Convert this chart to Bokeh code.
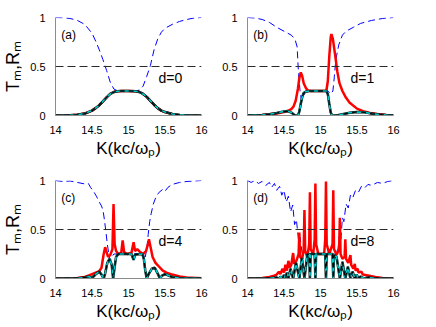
from bokeh.plotting import figure
from bokeh.layouts import column, row
from bokeh.models import FixedTicker, Label, Span
from bokeh.embed import file_html
from bokeh.resources import INLINE

FONT = "Liberation Sans"

x_ticks = [14, 14.5, 15, 15.5, 16]
x_tick_labels = ["14", "14.5", "15", "15.5", "16"]
y_ticks = [0, 0.5, 1]
y_tick_labels = ["0", "0.5", "1"]
panel_tags = ["(a)", "(b)", "(c)", "(d)"]
d_labels = ["d=0", "d=1", "d=4", "d=8"]
half_level = 0.5

# ---------------- panel (a), d=0 ----------------
k_T_a = [14.0, 14.2, 14.3, 14.4, 14.5, 14.55, 14.6, 14.65, 14.7, 14.75, 14.8, 14.85, 14.9, 15.0,
         15.1, 15.15, 15.2, 15.25, 15.3, 15.35, 15.4, 15.45, 15.5, 15.6, 15.7, 15.8, 16.0]
T_a = [0.0, 0.003, 0.008, 0.02, 0.05, 0.075, 0.105, 0.145, 0.185, 0.22, 0.24, 0.248, 0.25, 0.25,
       0.248, 0.24, 0.22, 0.19, 0.15, 0.11, 0.075, 0.05, 0.035, 0.015, 0.006, 0.002, 0.0]
k_red_a = k_T_a
red_a = T_a
k_R_a = [14.0, 14.1, 14.2, 14.3, 14.4, 14.5, 14.55, 14.6, 14.65, 14.7, 14.75, 14.8, 14.85, 14.9, 15.0,
         15.1, 15.15, 15.2, 15.25, 15.3, 15.35, 15.4, 15.45, 15.5, 15.6, 15.7, 15.8, 15.9, 16.0]
R_a = [1.0, 0.998, 0.99, 0.97, 0.93, 0.84, 0.76, 0.67, 0.57, 0.46, 0.34, 0.27, 0.252, 0.25, 0.25,
       0.25, 0.26, 0.3, 0.4, 0.51, 0.67, 0.78, 0.85, 0.89, 0.93, 0.96, 0.98, 0.995, 1.0]

# ---------------- panel (b), d=1 ----------------
k_T_b = [14.0, 14.2, 14.3, 14.4, 14.5, 14.55, 14.6, 14.63, 14.66, 14.69, 14.71, 14.73, 14.75, 14.77,
         14.8, 14.85, 15.0, 15.08, 15.1, 15.12, 15.14, 15.16, 15.22, 15.3, 15.4, 15.5, 15.6, 15.7,
         15.8, 15.9, 16.0]
T_b = [0.0, 0.005, 0.012, 0.025, 0.042, 0.045, 0.03, 0.012, 0.0, 0.0, 0.04, 0.12, 0.19, 0.23,
       0.245, 0.25, 0.25, 0.25, 0.22, 0.12, 0.03, 0.0, 0.0, 0.012, 0.028, 0.036, 0.032, 0.02,
       0.01, 0.004, 0.0]
k_red_b = [14.0, 14.2, 14.3, 14.4, 14.5, 14.55, 14.6, 14.63, 14.66, 14.69, 14.71, 14.73, 14.75,
           14.77, 14.8, 14.83, 14.87, 15.0, 15.08, 15.1, 15.12, 15.14, 15.15, 15.17, 15.2, 15.23,
           15.26, 15.3, 15.35, 15.4, 15.5, 15.6, 15.7, 15.8, 15.9, 16.0]
red_b = [0.002, 0.006, 0.012, 0.02, 0.035, 0.045, 0.065, 0.09, 0.15, 0.27, 0.38, 0.44, 0.4,
         0.33, 0.28, 0.255, 0.25, 0.25, 0.25, 0.35, 0.6, 0.8, 0.83, 0.78, 0.62, 0.45,
         0.33, 0.25, 0.18, 0.13, 0.07, 0.04, 0.022, 0.012, 0.006, 0.003]
k_R_b = [14.0, 14.1, 14.2, 14.3, 14.4, 14.5, 14.6, 14.65, 14.68, 14.69, 14.7, 14.72, 14.74, 14.76,
         14.8, 14.9, 15.1, 15.14, 15.17, 15.19, 15.21, 15.25, 15.3, 15.35, 15.45, 15.55, 15.7,
         15.85, 16.0]
R_b = [1.0, 0.995, 0.98, 0.95, 0.9, 0.86, 0.82, 0.78, 0.7, 0.55, 0.42, 0.25, 0.15, 0.2,
       0.24, 0.25, 0.25, 0.22, 0.25, 0.4, 0.57, 0.72, 0.82, 0.86, 0.9, 0.94, 0.97,
       0.99, 1.0]

# ---------------- panel (c), d=4 ----------------
k_T_c = [14.0, 14.3, 14.4, 14.45, 14.48, 14.52, 14.56, 14.6, 14.63, 14.66, 14.68, 14.71, 14.74,
         14.77, 14.79, 14.81, 14.83, 14.86, 15.04, 15.07, 15.09, 15.19, 15.21, 15.23, 15.25,
         15.28, 15.32, 15.36, 15.4, 15.43, 15.46, 15.5, 15.55, 15.6, 15.7, 16.0]
T_c = [0.0, 0.003, 0.01, 0.02, 0.01, 0.02, 0.05, 0.07, 0.04, 0.0, 0.05, 0.16, 0.2,
       0.14, 0.0, 0.12, 0.22, 0.25, 0.25, 0.19, 0.245, 0.25, 0.2, 0.08, 0.0,
       0.05, 0.1, 0.11, 0.05, 0.0, 0.03, 0.045, 0.03, 0.015, 0.005, 0.0]
k_red_c = [14.0, 14.3, 14.4, 14.45, 14.5, 14.55, 14.6, 14.63, 14.66, 14.68, 14.7, 14.72, 14.75,
           14.78, 14.795, 14.81, 14.83, 14.86, 14.9, 14.92, 14.94, 14.98, 15.04, 15.07, 15.09,
           15.12, 15.16, 15.2, 15.24, 15.27, 15.28, 15.3, 15.33, 15.37, 15.42, 15.47, 15.52,
           15.6, 15.7, 15.8, 16.0]
red_c = [0.0, 0.005, 0.015, 0.03, 0.045, 0.06, 0.075, 0.11, 0.25, 0.32, 0.27, 0.22, 0.24,
         0.3, 0.76, 0.35, 0.28, 0.25, 0.26, 0.39, 0.27, 0.25, 0.26, 0.37, 0.28,
         0.3, 0.27, 0.25, 0.28, 0.36, 0.4, 0.33, 0.22, 0.16, 0.12, 0.08, 0.06,
         0.04, 0.02, 0.01, 0.003]
k_R_c = [14.0, 14.1, 14.2, 14.3, 14.4, 14.45, 14.48, 14.52, 14.56, 14.6, 14.63, 14.65, 14.67,
         14.69, 14.71, 14.73, 14.75, 14.77, 14.8, 15.2, 15.23, 15.25, 15.27, 15.29, 15.31,
         15.34, 15.38, 15.42, 15.47, 15.5, 15.54, 15.6, 15.7, 15.8, 15.9, 16.0]
R_c = [1.0, 0.99, 0.995, 0.98, 0.965, 0.97, 0.93, 0.89, 0.84, 0.78, 0.74, 0.7, 0.6,
       0.48, 0.35, 0.25, 0.18, 0.22, 0.25, 0.25, 0.22, 0.3, 0.45, 0.58, 0.66,
       0.76, 0.84, 0.88, 0.91, 0.89, 0.93, 0.96, 0.98, 0.99, 0.995, 1.0]

# ---------------- panel (d), d=8 ----------------
k_T_d = [14.0, 14.3, 14.4, 14.43, 14.455, 14.48, 14.5, 14.52, 14.54, 14.56, 14.59, 14.625,
         14.665, 14.71, 14.745, 14.78, 14.82, 14.845, 14.855, 14.865, 14.92, 14.93, 14.94,
         15.065, 15.075, 15.085, 15.165, 15.175, 15.185, 15.22, 15.265, 15.3, 15.34, 15.375,
         15.41, 15.44, 15.47, 15.495, 15.52, 15.55, 15.6, 15.65, 15.75, 16.0]
T_d = [0.0, 0.003, 0.01, 0.0, 0.02, 0.0, 0.035, 0.0, 0.06, 0.0, 0.1, 0.0,
       0.16, 0.0, 0.21, 0.0, 0.245, 0.25, 0.0, 0.25, 0.25, 0.0, 0.25,
       0.25, 0.0, 0.25, 0.25, 0.0, 0.24, 0.22, 0.0, 0.17, 0.0, 0.12,
       0.0, 0.07, 0.0, 0.04, 0.0, 0.02, 0.0, 0.01, 0.003, 0.0]
k_red_d = [14.0, 14.2, 14.3, 14.35, 14.4, 14.43, 14.45, 14.48, 14.5, 14.52, 14.54, 14.56, 14.58,
           14.6, 14.625, 14.64, 14.67, 14.7, 14.71, 14.72, 14.75, 14.77, 14.78, 14.79, 14.82,
           14.845, 14.855, 14.865, 14.9, 14.92, 14.93, 14.94, 14.97, 15.05, 15.065, 15.075,
           15.085, 15.12, 15.165, 15.175, 15.185, 15.22, 15.255, 15.265, 15.275, 15.3, 15.33,
           15.34, 15.35, 15.38, 15.41, 15.42, 15.45, 15.47, 15.48, 15.51, 15.52, 15.56, 15.58,
           15.65, 15.75, 15.85, 16.0]
red_d = [0.0, 0.005, 0.015, 0.025, 0.04, 0.07, 0.045, 0.1, 0.06, 0.14, 0.08, 0.18, 0.11,
         0.14, 0.26, 0.15, 0.18, 0.25, 0.47, 0.22, 0.2, 0.3, 0.7, 0.28, 0.22,
         0.35, 0.88, 0.3, 0.25, 0.4, 0.97, 0.35, 0.25, 0.25, 0.4, 0.99,
         0.35, 0.25, 0.35, 0.9, 0.3, 0.24, 0.3, 0.62, 0.25, 0.2, 0.22,
         0.4, 0.2, 0.16, 0.24, 0.14, 0.1, 0.15, 0.08, 0.1, 0.06, 0.07, 0.04,
         0.03, 0.015, 0.006, 0.002]
k_R_d = [14.0, 14.05, 14.1, 14.15, 14.2, 14.25, 14.3, 14.33, 14.37, 14.4, 14.44, 14.47, 14.5,
         14.53, 14.56, 14.59, 14.62, 14.645, 14.67, 14.7, 14.72, 14.75, 14.8, 15.2, 15.24,
         15.26, 15.28, 15.3, 15.32, 15.35, 15.38, 15.41, 15.44, 15.48, 15.52, 15.56, 15.6,
         15.65, 15.7, 15.78, 15.85, 15.92, 16.0]
R_d = [1.0, 0.98, 1.0, 0.97, 0.99, 0.95, 0.98, 0.93, 0.97, 0.9, 0.94, 0.85, 0.9,
       0.78, 0.84, 0.68, 0.75, 0.55, 0.6, 0.38, 0.42, 0.25, 0.25, 0.25, 0.3,
       0.45, 0.4, 0.62, 0.58, 0.76, 0.72, 0.85, 0.82, 0.9, 0.88, 0.94, 0.92,
       0.96, 0.95, 0.98, 0.97, 0.99, 1.0]

panels = [
    (k_R_a, R_a, k_red_a, red_a, k_T_a, T_a),
    (k_R_b, R_b, k_red_b, red_b, k_T_b, T_b),
    (k_R_c, R_c, k_red_c, red_c, k_T_c, T_c),
    (k_R_d, R_d, k_red_d, red_d, k_T_d, T_d),
]

borders = [
    dict(min_border_left=49, min_border_right=15, min_border_top=17, min_border_bottom=37),
    dict(min_border_left=31, min_border_right=33, min_border_top=17, min_border_bottom=37),
    dict(min_border_left=49, min_border_right=15, min_border_top=20, min_border_bottom=37),
    dict(min_border_left=31, min_border_right=33, min_border_top=20, min_border_bottom=37),
]

figs = []
for i, (kR, R, kr, rd, kT, T) in enumerate(panels):
    p = figure(frame_width=146, frame_height=98, x_range=(14, 16), y_range=(0, 1),
               output_backend="svg", toolbar_location=None, **borders[i])
    p.outline_line_color = None
    p.background_fill_color = "white"
    p.border_fill_color = "white"
    p.grid.visible = False

    for ax in (p.xaxis[0], p.yaxis[0]):
        ax.axis_line_color = "#8c8c8c"
        ax.axis_line_width = 1
        ax.major_tick_line_color = None
        ax.minor_tick_line_color = None
        ax.major_label_text_font = FONT
        ax.major_label_text_font_size = "11px"
        ax.major_label_text_color = "black"
        ax.axis_label_text_font = FONT
        ax.axis_label_text_font_style = "normal"
        ax.axis_label_text_color = "black"
    p.xaxis.ticker = FixedTicker(ticks=x_ticks)
    p.xaxis.major_label_overrides = {t: l for t, l in zip(x_ticks, x_tick_labels)}
    p.yaxis.ticker = FixedTicker(ticks=y_ticks)
    p.yaxis.major_label_overrides = {t: l for t, l in zip(y_ticks, y_tick_labels)}
    p.xaxis.major_label_standoff = 4
    p.yaxis.major_label_standoff = 4
    p.xaxis.axis_label = "K(kc/\u03c9\u209a)"
    p.xaxis.axis_label_text_font_size = "17px"
    p.xaxis.axis_label_standoff = 2
    if i in (0, 2):
        p.yaxis.axis_label = "T\u2098,R\u2098"
        p.yaxis.axis_label_text_font_size = "18px"
        p.yaxis.axis_label_standoff = 4

    p.line(kR, R, line_color="#0000ff", line_width=1, line_dash="7 4")
    p.add_layout(Span(location=half_level, dimension="width", line_color="#2a2a2a",
                      line_width=1.2, line_dash="8 4"))
    p.line(kr, rd, line_color="#ff0000", line_width=2.5)
    p.line(kT, T, line_color="black", line_width=2.5)
    p.line(kT, T, line_color="#00cccc", line_width=1.6)
    p.line(kT, T, line_color="black", line_width=1.3, line_dash="5 4")

    p.add_layout(Label(x=14.08, y=0.82, text=panel_tags[i], text_font=FONT,
                       text_font_size="12px", text_baseline="middle", text_color="black"))
    p.add_layout(Label(x=15.41, y=0.38, text=d_labels[i], text_font=FONT,
                       text_font_size="14px", text_baseline="middle", text_color="black"))
    figs.append(p)

layout = column(row(figs[0], figs[1]), row(figs[2], figs[3]))
open("out.html", "w").write(file_html(layout, INLINE))
